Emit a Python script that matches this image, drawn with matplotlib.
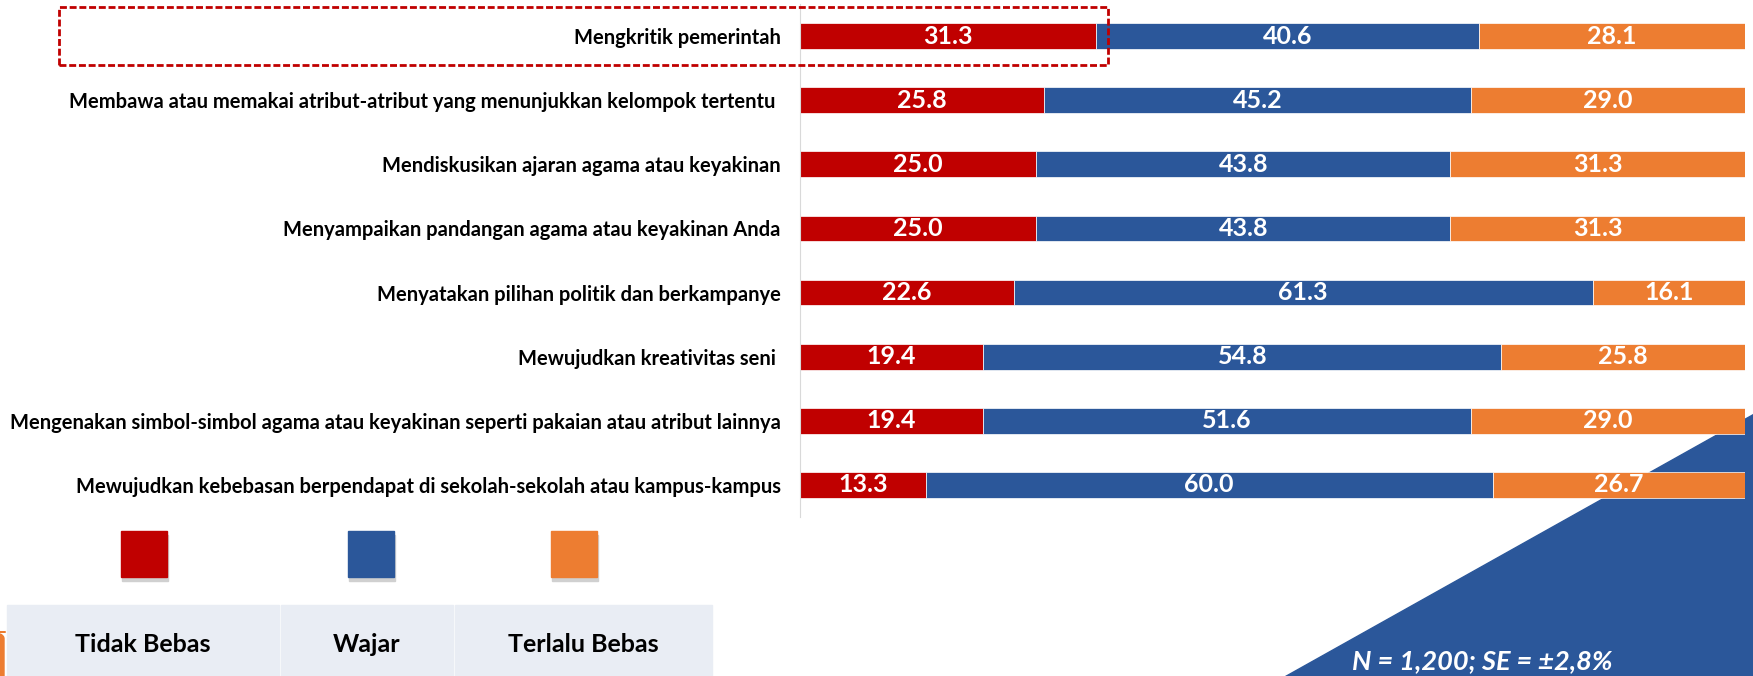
import matplotlib.pyplot as plt
from matplotlib.patches import Rectangle, Polygon, FancyBboxPatch
import numpy as np

plt.rcParams['font.family'] = ['Lato', 'DejaVu Sans']

categories = [
    "Mengkritik pemerintah",
    "Membawa atau memakai atribut-atribut yang menunjukkan kelompok tertentu ",
    "Mendiskusikan ajaran agama atau keyakinan",
    "Menyampaikan pandangan agama atau keyakinan Anda",
    "Menyatakan pilihan politik dan berkampanye",
    "Mewujudkan kreativitas seni ",
    "Mengenakan simbol-simbol agama atau keyakinan seperti pakaian atau atribut lainnya",
    "Mewujudkan kebebasan berpendapat di sekolah-sekolah atau kampus-kampus",
]
tidak_bebas = [31.3, 25.8, 25.0, 25.0, 22.6, 19.4, 19.4, 13.3]
wajar = [40.6, 45.2, 43.8, 43.8, 61.3, 54.8, 51.6, 60.0]
terlalu_bebas = [28.1, 29.0, 31.3, 31.3, 16.1, 25.8, 29.0, 26.7]
series_names = ["Tidak Bebas", "Wajar", "Terlalu Bebas"]
colors = ["#C00000", "#2B579A", "#ED7D31"]
note = "N = 1,200; SE = \u00b12,8%"

W, H = 1753, 676
fig = plt.figure(figsize=(W / 100, H / 100), dpi=100)

def fx(px):
    return px / W

def fy(py):
    return 1 - py / H

# blue triangle in the lower right corner (behind the bars)
tri = Polygon([(fx(1285), fy(676)), (fx(1753), fy(676)), (fx(1753), fy(414))],
              closed=True, transform=fig.transFigure, color="#2B579A", zorder=0)
fig.patches.append(tri)
fig.text(fx(1482), fy(661), note, color="white", fontsize=19.5, fontweight="bold",
         style="italic", ha="center", va="center", zorder=5)

# small orange shape on the left edge
fig.patches.append(FancyBboxPatch((fx(-12), fy(700)), fx(16), 68 / H,
                                  boxstyle="round,pad=0,rounding_size=0.01",
                                  transform=fig.transFigure, color="#ED7D31", zorder=1))

ax = fig.add_axes([fx(800), fy(517), fx(1745) - fx(800), 513 / H])
ax.patch.set_visible(False)
ax.set_zorder(2)

y = np.arange(len(categories))
left = np.zeros(len(categories))
for vals, name, c in zip([tidak_bebas, wajar, terlalu_bebas], series_names, colors):
    bars = ax.barh(y, vals, left=left, height=0.4, color=c, edgecolor="white",
                   linewidth=0.5, label=name)
    ax.bar_label(bars, labels=[f"{v:.1f}" for v in vals], label_type="center",
                 color="white", fontsize=18, fontweight="bold")
    left += np.array(vals)

ax.set_xlim(0, 100)
ax.set_ylim(7.5, -0.5)
ax.set_yticks(y, categories)
ax.tick_params(axis="y", length=0, pad=14)
for t in ax.get_yticklabels():
    t.set_fontweight("bold")
    t.set_fontsize(14.5)
ax.set_xticks([])
for s in ["top", "right", "bottom"]:
    ax.spines[s].set_visible(False)
ax.spines["left"].set_color("#D9D9D9")

# dashed highlight box around first row
fig.patches.append(Rectangle((fx(59), fy(65)), fx(1108) - fx(59), 58 / H,
                             transform=fig.transFigure, fill=False, edgecolor="#C00000",
                             linestyle=(0, (2.5, 1)), linewidth=2, zorder=10))

# legend squares and table
sq_x = [121, 348, 551]
cells = [(7, 279), (281, 453), (455, 712)]
for i, name in enumerate(series_names):
    fig.patches.append(Rectangle((fx(sq_x[i] + 1), fy(581)), 46 / W, 46 / H,
                                 transform=fig.transFigure, color="#D0D0D0", zorder=1))
    fig.patches.append(Rectangle((fx(sq_x[i]), fy(577)), 46 / W, 46 / H,
                                 transform=fig.transFigure, color=colors[i], zorder=2))
    x0, x1 = cells[i]
    fig.patches.append(Rectangle((fx(x0), fy(676)), fx(x1) - fx(x0), 71 / H,
                                 transform=fig.transFigure, color="#E9EDF4", zorder=1))
    fig.text(fx((x0 + x1) / 2), fy(644), name, ha="center", va="center",
             fontsize=18, fontweight="bold", zorder=3)

fig.savefig("out.png", dpi=100)
